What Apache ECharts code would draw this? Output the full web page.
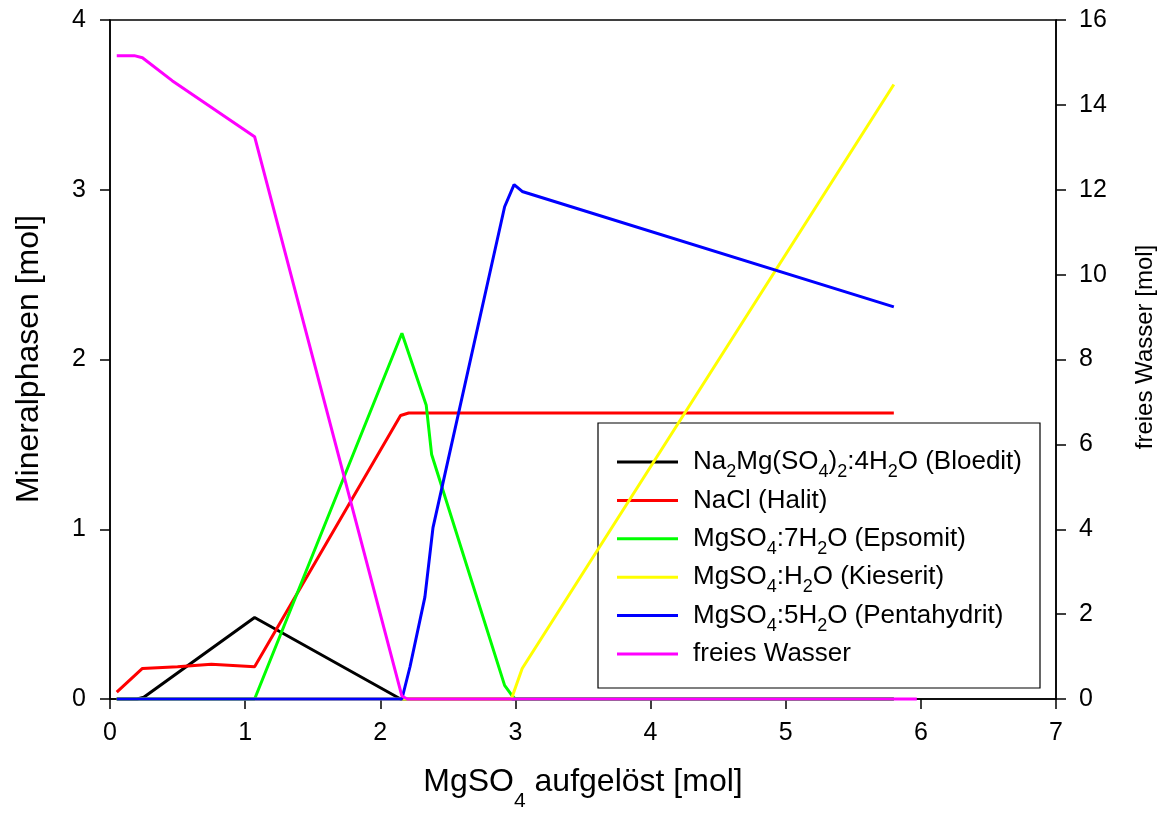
<!DOCTYPE html>
<html>
<head>
<meta charset="utf-8">
<script src="https://cdn.jsdelivr.net/npm/echarts@6/dist/echarts.min.js"></script>
<style>
  html, body { margin: 0; padding: 0; background: #fff; }
  #chart { width: 1166px; height: 816px; }
</style>
</head>
<body>
<div id="chart"></div>
<script>
// MgSO4 dissolved [mol] and the amounts of each mineral phase [mol]
const bloeditX = [0.05, 0.20, 0.25, 1.07, 2.15, 5.80];
const bloeditY = [0, 0, 0.01, 0.48, 0, 0];

const halitX = [0.05, 0.24, 0.50, 0.75, 1.07, 2.15, 2.21, 5.80];
const halitY = [0.04, 0.18, 0.19, 0.205, 0.19, 1.67, 1.685, 1.685];

const epsomitX = [0.05, 1.07, 2.16, 2.34, 2.38, 2.92, 2.975, 3.00, 5.80];
const epsomitY = [0, 0, 2.155, 1.73, 1.44, 0.08, 0.02, 0, 0];

const kieseritX = [0.05, 2.97, 3.05, 5.80];
const kieseritY = [0, 0, 0.18, 3.62];

const pentaX = [0.05, 2.16, 2.22, 2.33, 2.39, 2.92, 2.99, 3.05, 5.80];
const pentaY = [0, 0, 0.19, 0.60, 1.01, 2.90, 3.03, 2.99, 2.31];

// free water [mol], right axis
const wasserX = [0.05, 0.18, 0.24, 0.46, 1.07, 2.16, 2.20, 5.97];
const wasserY = [15.16, 15.16, 15.11, 14.57, 13.25, 0.07, 0, 0];

const seriesNames = ['Bloedit', 'Halit', 'Epsomit', 'Kieserit', 'Pentahydrit', 'Wasser'];
const legendLabels = [
  'Na{s|2}Mg(SO{s|4}){s|2}:4H{s|2}O (Bloedit)',
  'NaCl (Halit)',
  'MgSO{s|4}:7H{s|2}O (Epsomit)',
  'MgSO{s|4}:H{s|2}O (Kieserit)',
  'MgSO{s|4}:5H{s|2}O (Pentahydrit)',
  'freies Wasser'
];
const xTicks = [0, 1, 2, 3, 4, 5, 6, 7];
const leftTicks = [0, 1, 2, 3, 4];
const rightTicks = [0, 2, 4, 6, 8, 10, 12, 14, 16];

const FONT = 'Liberation Sans, Arial, sans-serif';
const colors = ['#000000', '#ff0000', '#00ff00', '#ffff00', '#0000ff', '#ff00ff'];

function pairs(xs, ys) { return xs.map((x, i) => [x, ys[i]]); }
const seriesData = [
  pairs(bloeditX, bloeditY),
  pairs(halitX, halitY),
  pairs(epsomitX, epsomitY),
  pairs(kieseritX, kieseritY),
  pairs(pentaX, pentaY),
  pairs(wasserX, wasserY)
];

// wrap the plain parts of a formula label in an explicit rich token
function richLabel(str) {
  return str.split(/(\{s\|[^}]*\})/).filter(p => p.length)
    .map(p => p.startsWith('{s|') ? p : '{n|' + p + '}').join('');
}

const axisCommon = {
  axisLine: { show: true, lineStyle: { color: '#000', width: 1.5 } },
  axisTick: { show: true, inside: false, length: 10, lineStyle: { color: '#000', width: 1.5 } },
  splitLine: { show: false },
  axisLabel: { color: '#000', fontFamily: FONT, fontSize: 25 }
};

const chart = echarts.init(document.getElementById('chart'), null, { renderer: 'canvas' });
chart.setOption({
  animation: false,
  backgroundColor: '#fff',
  color: colors,
  grid: {
    left: 110, right: 110, top: 20, bottom: 117,
    show: true, borderColor: '#000', borderWidth: 1.5, backgroundColor: 'transparent'
  },
  xAxis: Object.assign({}, axisCommon, {
    type: 'value', min: xTicks[0], max: xTicks[xTicks.length - 1], interval: 1,
    axisLabel: Object.assign({}, axisCommon.axisLabel, { margin: 22 })
  }),
  yAxis: [
    Object.assign({}, axisCommon, {
      type: 'value', position: 'left', min: leftTicks[0], max: leftTicks[leftTicks.length - 1], interval: 1,
      axisLabel: Object.assign({}, axisCommon.axisLabel, { margin: 24 })
    }),
    Object.assign({}, axisCommon, {
      type: 'value', position: 'right', min: rightTicks[0], max: rightTicks[rightTicks.length - 1], interval: 2,
      axisLabel: Object.assign({}, axisCommon.axisLabel, { margin: 23 })
    })
  ],
  legend: {
    orient: 'vertical',
    left: 598, top: 423,
    padding: [20, 18, 15, 19],
    itemGap: 0.4,
    itemWidth: 61,
    itemHeight: 3,
    icon: 'rect',
    borderColor: '#000',
    borderWidth: 1.2,
    borderRadius: 0,
    backgroundColor: '#fff',
    data: seriesNames,
    formatter: name => richLabel(legendLabels[seriesNames.indexOf(name)]),
    textStyle: {
      color: '#000', fontFamily: FONT, fontSize: 26, lineHeight: 38,
      padding: [0, 0, 0, 10],
      rich: {
        n: { fontFamily: FONT, fontSize: 26, lineHeight: 38, verticalAlign: 'middle', color: '#000' },
        s: { fontFamily: FONT, fontSize: 18, lineHeight: 6, verticalAlign: 'bottom', color: '#000' }
      }
    }
  },
  graphic: [
    {
      type: 'text', x: 583, y: 782, silent: true,
      style: {
        text: 'MgSO{s|4} aufgelöst [mol]',
        fontFamily: FONT, fontSize: 32, lineHeight: 60, fill: '#000',
        align: 'center', verticalAlign: 'middle',
        rich: { s: { fontFamily: FONT, fontSize: 21, lineHeight: 16, verticalAlign: 'bottom', fill: '#000' } }
      }
    },
    {
      type: 'text', x: 29, y: 359, rotation: Math.PI / 2, silent: true,
      style: {
        text: 'Mineralphasen [mol]', fontFamily: FONT, fontSize: 32, fill: '#000',
        align: 'center', verticalAlign: 'middle'
      }
    },
    {
      type: 'text', x: 1145, y: 347, rotation: Math.PI / 2, silent: true,
      style: {
        text: 'freies Wasser [mol]', fontFamily: FONT, fontSize: 24, fill: '#000',
        align: 'center', verticalAlign: 'middle'
      }
    }
  ],
  series: seriesNames.map((name, i) => ({
    name: name,
    type: 'line',
    yAxisIndex: i === 5 ? 1 : 0,
    data: seriesData[i],
    showSymbol: false,
    symbol: 'none',
    smooth: false,
    clip: false,
    z: 2 + i,
    lineStyle: { color: colors[i], width: 3 },
    itemStyle: { color: colors[i] }
  }))
});
</script>
</body>
</html>
